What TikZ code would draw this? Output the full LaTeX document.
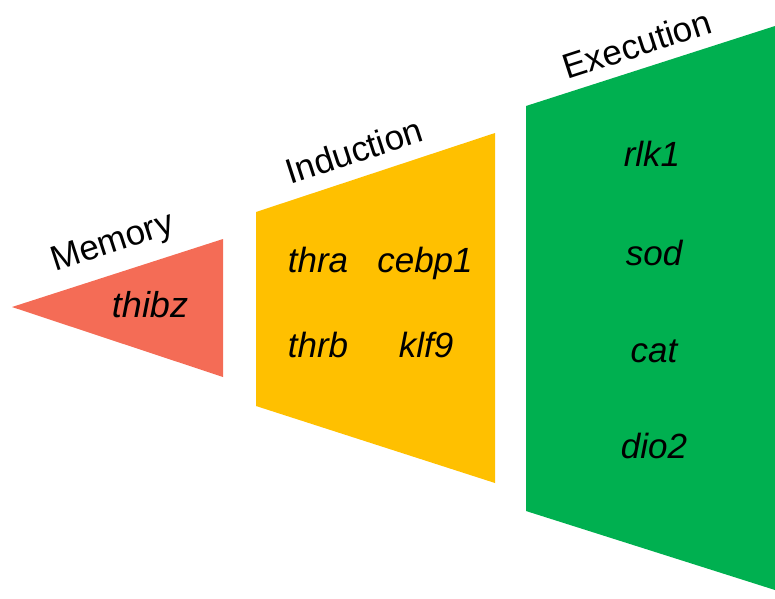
\documentclass[tikz,border=0pt]{standalone}
\usepackage{fontspec}
\setmainfont{Liberation Sans}
\definecolor{memred}{rgb}{0.9568627450980393,0.4235294117647059,0.3372549019607843}
\definecolor{indyellow}{rgb}{1.0,0.7529411764705882,0.0}
\definecolor{exegreen}{rgb}{0.0,0.6901960784313725,0.3137254901960784}
\begin{document}
\begin{tikzpicture}[x=1pt,y=-1pt,line join=round,
  stage/.style={font=\fontsize{35}{42}\selectfont,inner sep=0pt,rotate=18},
  gene/.style={font=\fontsize{35}{42}\selectfont\itshape,anchor=base,inner sep=0pt}]
  \useasboundingbox (0,0) rectangle (775,598);
  \fill[color=memred] (12,307)--(223,239)--(223,377)--cycle;
  \fill[color=indyellow] (256,212)--(495,133)--(495,483)--(256,406)--cycle;
  \fill[color=exegreen] (526,106)--(775,26)--(775,590)--(526,511)--cycle;
  \node[stage] (memory) at (113,244) {Memory};
  \node[stage] (induction) at (354,151) {Induction};
  \node[stage] (execution) at (637,44) {Execution};
  \node[gene,font=\fontsize{36}{43}\selectfont\itshape] (thibz) at (150,317) {thibz};
  \node[gene] (thra) at (318,272) {thra};
  \node[gene] (cebp1) at (425,272) {cebp1};
  \node[gene] (thrb) at (318,357) {thrb};
  \node[gene] (klf9) at (426,357) {klf9};
  \node[gene] (rlk1) at (652,166) {rlk1};
  \node[gene] (sod) at (654,265) {sod};
  \node[gene] (cat) at (654,362) {cat};
  \node[gene] (dio2) at (654,458) {dio2};
\end{tikzpicture}
\end{document}
